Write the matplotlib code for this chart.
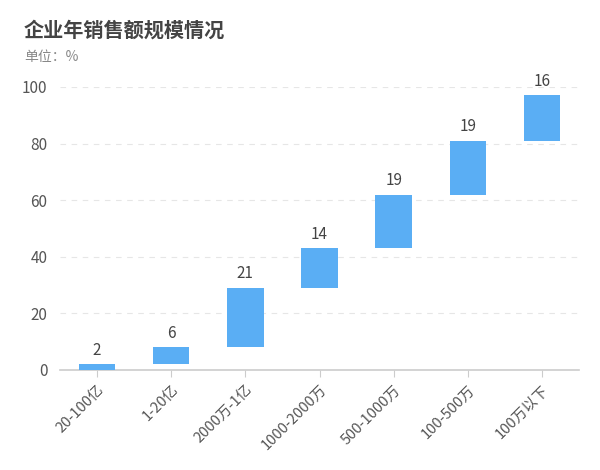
import matplotlib.pyplot as plt
import numpy as np

plt.rcParams['font.family'] = ['Noto Sans CJK SC', 'DejaVu Sans']

categories = ["20-100亿", "1-20亿", "2000万-1亿", "1000-2000万", "500-1000万", "100-500万", "100万以下"]
values = [2, 6, 21, 14, 19, 19, 16]

bottoms = np.concatenate([[0], np.cumsum(values)[:-1]])
x = np.arange(len(categories))

fig = plt.figure(figsize=(6, 4.7), dpi=100)
ax = fig.add_axes([0.1, 0.2128, 0.865, 0.6022])

ax.bar(x, values, bottom=bottoms, width=0.49, color="#5AAEF4", zorder=3)
for xi, b, v in zip(x, bottoms, values):
    ax.text(xi, b + v + 2.0, str(v), ha="center", va="bottom", fontsize=11, color="#444444")

ax.set_xlim(-0.5, len(categories) - 0.5)
ax.set_ylim(0, 100)
ax.set_yticks([0, 20, 40, 60, 80, 100])
ax.yaxis.grid(True, linestyle=(0, (5, 5)), color="#e6e6e6", linewidth=0.8, zorder=0)
ax.set_xticks(x)
ax.set_xticklabels(categories, rotation=45, ha="right", rotation_mode="anchor", fontsize=10.5, color="#555555")
ax.tick_params(axis="y", length=0, labelsize=11, labelcolor="#555555", pad=9)
ax.tick_params(axis="x", length=5, color="#cccccc", pad=4)

for s in ["top", "right", "left"]:
    ax.spines[s].set_visible(False)
ax.spines["bottom"].set_color("#cccccc")
ax.spines["bottom"].set_linewidth(1.2)

fig.text(0.04, 0.935, "企业年销售额规模情况", fontsize=14.5, fontweight="bold", color="#444444", va="center")
fig.text(0.04, 0.878, "单位：%", fontsize=10, color="#888888", va="center")

fig.savefig("out.png", dpi=100)
